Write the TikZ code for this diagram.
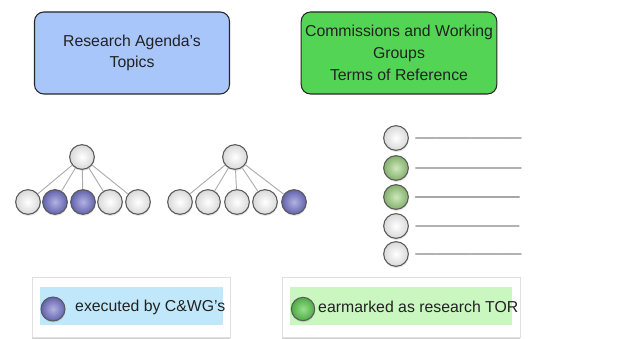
\documentclass[tikz,border=0pt]{standalone}
\usepackage{fontspec}
\setmainfont{Liberation Sans}
\usepackage{tikz}
\usetikzlibrary{shadows}

\definecolor{topicblue}{RGB}{168,198,250}
\definecolor{torgreen}{RGB}{84,212,84}
\definecolor{keyblue}{RGB}{192,232,250}
\definecolor{keygreen}{RGB}{202,246,192}
\definecolor{ballblueIn}{RGB}{178,178,228}
\definecolor{ballblueOut}{RGB}{98,98,172}
\definecolor{ballgreenIn}{RGB}{205,232,188}
\definecolor{ballgreenOut}{RGB}{132,176,108}
\definecolor{keyballIn}{RGB}{150,224,140}
\definecolor{keyballOut}{RGB}{78,170,70}
\definecolor{inkgray}{RGB}{34,34,34}

\tikzset{%
            base/.style = {rectangle, rounded corners=8pt, draw=black!85,
                           line width=0.9pt, text centered, align=center, text=inkgray,
                           font=\fontsize{13.5}{18.5}\selectfont},
  topic/.style = {base, minimum width=5.85cm, minimum height=2.46cm, fill=topicblue},
  tor/.style   = {base, minimum width=5.75cm, minimum height=2.46cm, fill=torgreen},
  ball/.style  = {circle, draw=gray!70!black, line width=0.9pt, minimum size=0.74cm,
                  inner sep=0pt, inner color=white, outer color=gray!30,
                  drop shadow={shadow xshift=0.4pt, shadow yshift=-1.4pt, opacity=0.2}},
  blueball/.style  = {ball, inner color=ballblueIn, outer color=ballblueOut},
  greenball/.style = {ball, inner color=ballgreenIn, outer color=ballgreenOut},
  keyball/.style   = {ball, minimum size=0.7cm, inner color=keyballIn, outer color=keyballOut},
  edge/.style  = {draw=gray!65, line width=0.8pt},
  scribble/.style = {draw=gray!60, line width=1.3pt, line cap=round},
  keybox/.style  = {rectangle, draw=gray!25, fill=white, minimum height=1.8cm,
                    drop shadow={shadow xshift=0pt, shadow yshift=-2.5pt, fill=gray!60, opacity=0.6}},
  keyfill/.style = {rectangle, minimum height=1.14cm},
  keytext/.style = {anchor=west, inner sep=0pt, text=inkgray, font=\fontsize{13.5}{16}\selectfont},
}

\begin{document}
\begin{tikzpicture}[x=0.03cm, y=0.03cm]
  \useasboundingbox (0,0) rectangle (625,338);

  % headings
  \node (agenda) [topic] at (132,285) {Research Agenda's\\Topics};
  \node (terms)  [tor]   at (399,285) {Commissions and Working\\Groups\\Terms of Reference};

  % first tree
  \node (treeA)   [ball]     at (82,181)  {};
  \node (treeA1)  [ball]     at (28,136)  {};
  \node (treeA2)  [blueball] at (55,136)  {};
  \node (treeA3)  [blueball] at (83,136)  {};
  \node (treeA4)  [ball]     at (110,136) {};
  \node (treeA5)  [ball]     at (138,136) {};
  \draw[edge] (treeA) -- (treeA1);
  \draw[edge] (treeA) -- (treeA2);
  \draw[edge] (treeA) -- (treeA3);
  \draw[edge] (treeA) -- (treeA4);
  \draw[edge] (treeA) -- (treeA5);

  % second tree
  \node (treeB)   [ball]     at (235,181) {};
  \node (treeB1)  [ball]     at (180,136) {};
  \node (treeB2)  [ball]     at (208,136) {};
  \node (treeB3)  [ball]     at (237,136) {};
  \node (treeB4)  [ball]     at (265,136) {};
  \node (treeB5)  [blueball] at (294,136) {};
  \draw[edge] (treeB) -- (treeB1);
  \draw[edge] (treeB) -- (treeB2);
  \draw[edge] (treeB) -- (treeB3);
  \draw[edge] (treeB) -- (treeB4);
  \draw[edge] (treeB) -- (treeB5);

  % list of terms
  \node (item1) [ball]      at (396,200) {};
  \node (item2) [greenball] at (396,170) {};
  \node (item3) [greenball] at (396,141) {};
  \node (item4) [ball]      at (396,112) {};
  \node (item5) [ball]      at (396,84)  {};
  \draw[scribble, line width=1.5pt, dash pattern=on 2pt off 0.6pt] ([xshift=6pt]item1.east) -- ++(105,0);
  \draw[scribble, line width=1.6pt] ([xshift=6pt]item2.east) -- ++(105,0);
  \draw[scribble, line width=2.4pt, draw=gray!70] ([xshift=6pt]item3.east) -- ++(103,0);
  \draw[scribble, line width=1.3pt] ([xshift=6pt]item4.east) -- ++(103,0);
  \draw[scribble, line width=1.5pt, dash pattern=on 2pt off 0.6pt] ([xshift=6pt]item5.east) -- ++(105,0);

  % legend
  \node (keyA)     [keybox, minimum width=5.94cm] at (131,31) {};
  \node (keyAfill) [keyfill, fill=keyblue, minimum width=5.49cm] at (131.5,32) {};
  \node (keyAball) [blueball, minimum size=0.72cm] at (53,29) {};
  \node (keyAtext) [keytext] at (75,31) {executed by C\&WG's};

  \node (keyB)     [keybox, minimum width=7.14cm] at (401,31) {};
  \node (keyBfill) [keyfill, fill=keygreen, minimum width=6.66cm] at (401,32) {};
  \node (keyBball) [keyball] at (303,29) {};
  \node (keyBtext) [keytext] at (318,31) {earmarked as research TOR};
\end{tikzpicture}
\end{document}
